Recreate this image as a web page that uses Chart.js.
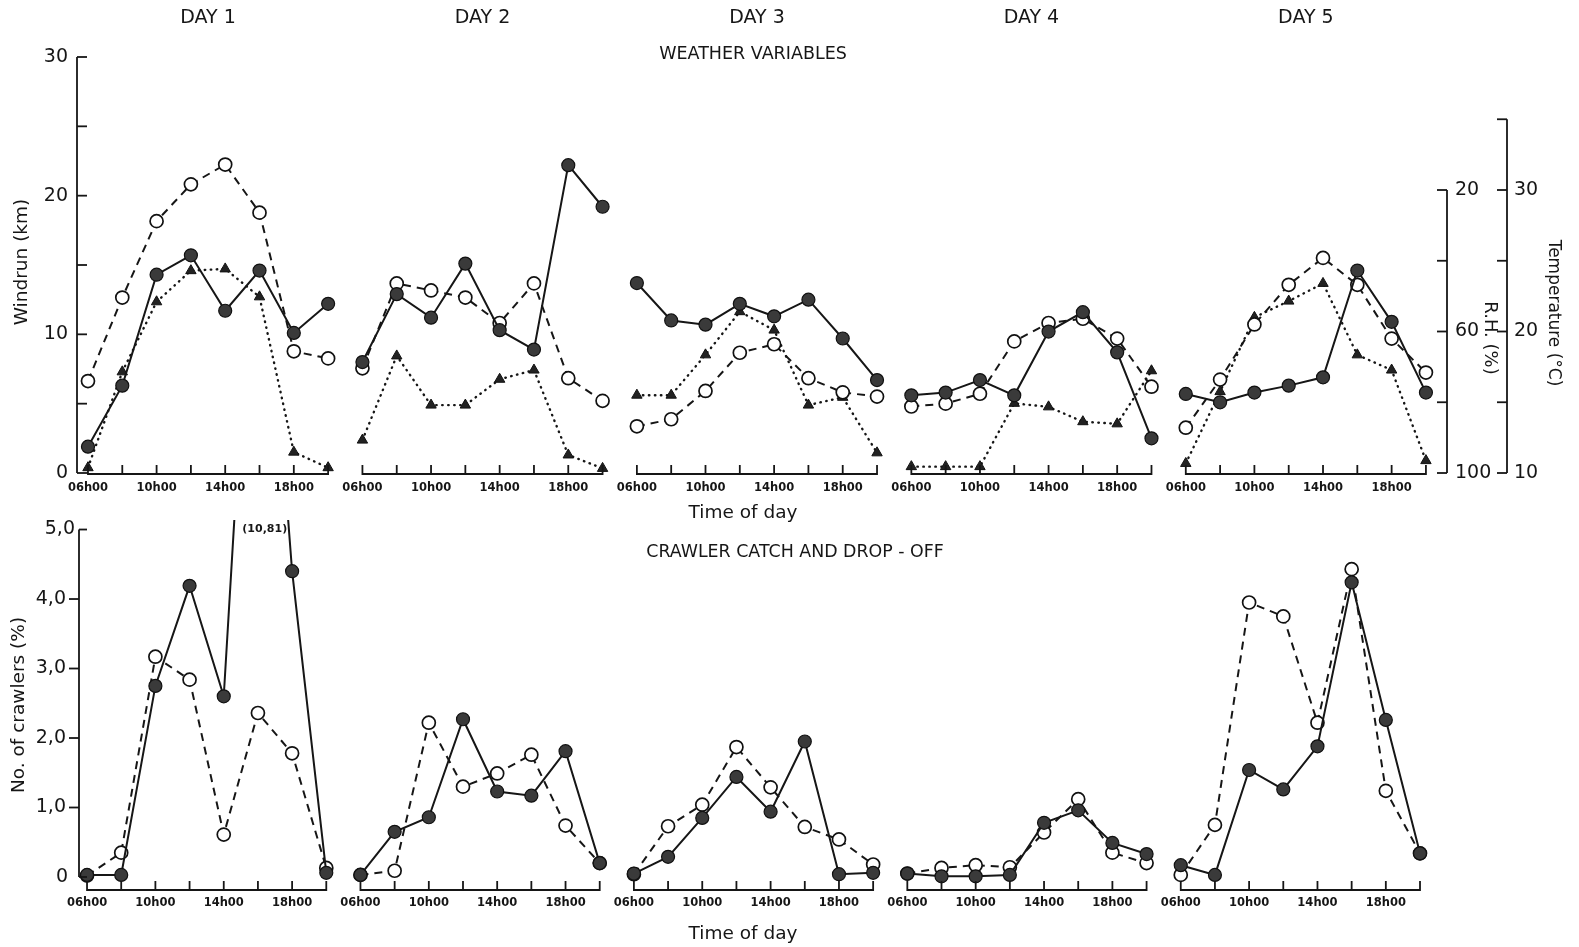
<!DOCTYPE html>
<html>
<head>
<meta charset="utf-8">
<script src="https://cdn.jsdelivr.net/npm/chart.js@4.4.1/dist/chart.umd.min.js"></script>
<style>
  html, body { margin: 0; padding: 0; background: #ffffff; }
  body { width: 1579px; height: 947px; position: relative; overflow: hidden; }
  canvas { position: absolute; left: 0; }
  #weather { top: 0; }
  #crawlers { top: 500px; }
</style>
</head>
<body>
<canvas id="weather" width="1579" height="530"></canvas>
<canvas id="crawlers" width="1579" height="447"></canvas>
<script>
// ---- data -------------------------------------------------------------
const dayNames = ['DAY 1', 'DAY 2', 'DAY 3', 'DAY 4', 'DAY 5'];
const hours = [6, 8, 10, 12, 14, 16, 18, 20];
const hourLabels = ['06h00', '10h00', '14h00', '18h00'];
const labelledHours = [6, 10, 14, 18];

// weather variables, one row per day, readings every two hours 06h00-20h00
const windrun = [            // km (filled circles, solid line)
  [1.9, 6.3, 14.3, 15.7, 11.7, 14.6, 10.1, 12.2],
  [8.0, 12.9, 11.2, 15.1, 10.3, 8.9, 22.2, 19.2],
  [13.7, 11.0, 10.7, 12.2, 11.3, 12.5, 9.7, 6.7],
  [5.6, 5.8, 6.7, 5.6, 10.2, 11.6, 8.7, 2.5],
  [5.7, 5.1, 5.8, 6.3, 6.9, 14.6, 10.9, 5.8]
];
const temperature = [        // deg C (open circles, dashed line)
  [16.5, 22.4, 27.8, 30.4, 31.8, 28.4, 18.6, 18.1],
  [17.4, 23.4, 22.9, 22.4, 20.6, 23.4, 16.7, 15.1],
  [13.3, 13.8, 15.8, 18.5, 19.1, 16.7, 15.7, 15.4],
  [14.7, 14.9, 15.6, 19.3, 20.6, 20.9, 19.5, 16.1],
  [13.2, 16.6, 20.5, 23.3, 25.2, 23.3, 19.5, 17.1]
];
const relHumidity = [        // % (triangles, dotted line)
  [98.5, 71.4, 51.6, 42.8, 42.3, 50.2, 94.1, 98.5],
  [90.7, 66.9, 80.8, 80.8, 73.5, 70.9, 94.9, 98.7],
  [78.0, 78.0, 66.6, 54.4, 59.6, 80.8, 78.6, 94.3],
  [98.2, 98.2, 98.2, 80.3, 81.3, 85.5, 86.1, 71.1],
  [97.3, 77.0, 56.0, 51.4, 46.4, 66.6, 70.9, 96.5]
];

// crawler catch and drop-off, % of crawlers
const crawlersCaught = [     // filled circles, solid line
  [0.03, 0.03, 2.75, 4.19, 2.60, 10.81, 4.40, 0.06],
  [0.03, 0.65, 0.86, 2.27, 1.23, 1.17, 1.81, 0.20],
  [0.05, 0.29, 0.85, 1.44, 0.94, 1.95, 0.04, 0.06],
  [0.05, 0.01, 0.01, 0.03, 0.78, 0.96, 0.49, 0.33],
  [0.17, 0.03, 1.54, 1.26, 1.88, 4.24, 2.26, 0.34]
];
const crawlersDropped = [    // open circles, dashed line
  [0.02, 0.35, 3.17, 2.84, 0.61, 2.36, 1.78, 0.13],
  [0.03, 0.09, 2.22, 1.30, 1.49, 1.76, 0.74, 0.20],
  [0.04, 0.73, 1.04, 1.87, 1.29, 0.72, 0.54, 0.18],
  [0.05, 0.13, 0.17, 0.14, 0.64, 1.12, 0.35, 0.20],
  [0.03, 0.75, 3.95, 3.75, 2.22, 4.43, 1.24, 0.34]
];

const windrunTicks = [0, 10, 20, 30];
const windrunMinorTicks = [0, 5, 10, 15, 20, 25, 30];
const rhTicks = [20, 60, 100];
const rhMinorTicks = [20, 40, 60, 80, 100];
const tempTicks = [10, 20, 30];
const tempMinorTicks = [10, 15, 20, 25, 30, 35];
const crawlerTicks = [0, 1, 2, 3, 4, 5];
const crawlerTickLabels = ['0', '1,0', '2,0', '3,0', '4,0', '5,0'];
const peakLabel = '(10,81)';

// ---- helpers ------------------------------------------------------------
const DAY_SPAN = 16;           // axis hours between successive day origins
const INK = '#161616';
const FONT = '"DejaVu Sans", "Liberation Sans", sans-serif';

function series(rows) {
  const pts = [];
  rows.forEach((row, d) => {
    row.forEach((v, i) => pts.push({ x: d * DAY_SPAN + hours[i], y: v }));
    pts.push({ x: d * DAY_SPAN + 21, y: null });   // break the line between days
  });
  return pts;
}

function text(ctx, s, x, y, font, align, rot) {
  ctx.save();
  ctx.translate(x, y);
  if (rot) ctx.rotate(rot);
  ctx.font = font;
  ctx.textAlign = align || 'center';
  ctx.textBaseline = 'middle';
  ctx.fillStyle = INK;
  ctx.fillText(s, 0, 0);
  ctx.restore();
}

function line(ctx, x1, y1, x2, y2) {
  ctx.beginPath();
  ctx.moveTo(x1, y1);
  ctx.lineTo(x2, y2);
  ctx.stroke();
}

// time axis: one short baseline per day with upward ticks every two hours
function drawDayAxes(ctx, x, baseY, labelY) {
  ctx.lineWidth = 1.8;
  ctx.strokeStyle = INK;
  dayNames.forEach((_, d) => {
    const x0 = x.getPixelForValue(d * DAY_SPAN + hours[0]);
    const x1 = x.getPixelForValue(d * DAY_SPAN + hours[hours.length - 1]);
    line(ctx, x0, baseY, x1, baseY);
    hours.forEach(h => {
      const px = x.getPixelForValue(d * DAY_SPAN + h);
      line(ctx, px, baseY + 1, px, baseY - 9);
    });
    labelledHours.forEach((h, i) => {
      text(ctx, hourLabels[i], x.getPixelForValue(d * DAY_SPAN + h), labelY,
           'bold 11.5px ' + FONT, 'center');
    });
  });
}

const filledStyle = {
  borderColor: INK, borderWidth: 2, pointStyle: 'circle', pointRadius: 6.5,
  pointBackgroundColor: '#3a3a3a', pointBorderColor: '#111', pointBorderWidth: 1.2,
  tension: 0
};
const openStyle = {
  borderColor: INK, borderWidth: 2, borderDash: [8, 6], pointStyle: 'circle',
  pointRadius: 6.5, pointBackgroundColor: '#ffffff', pointBorderColor: '#111',
  pointBorderWidth: 1.7, tension: 0
};
const triangleStyle = {
  borderColor: INK, borderWidth: 2.4, borderDash: [0.5, 5.5], borderCapStyle: 'round',
  pointStyle: 'triangle', pointRadius: 6, pointBackgroundColor: '#222',
  pointBorderColor: '#111', pointBorderWidth: 1, tension: 0
};

const baseOptions = {
  responsive: false,
  animation: false,
  devicePixelRatio: 1,
  plugins: { legend: { display: false }, tooltip: { enabled: false } },
  events: []
};

// ---- weather variables ----------------------------------------------------
const RH_AXIS_X = 1447;
const TEMP_AXIS_X = 1507;

const weatherFrame = {
  id: 'weatherFrame',
  afterDraw(chart) {
    const { ctx, chartArea, scales: { x, yW, yT, yR } } = chart;
    ctx.save();
    ctx.strokeStyle = INK;
    ctx.lineWidth = 1.8;

    // windrun axis (left)
    const ax = chartArea.left;
    line(ctx, ax, yW.getPixelForValue(30), ax, yW.getPixelForValue(0));
    windrunMinorTicks.forEach(v => {
      const py = yW.getPixelForValue(v);
      line(ctx, ax, py, ax + (v === 0 ? 11 : 10), py);
    });
    windrunTicks.forEach(v => text(ctx, String(v), ax - 9, yW.getPixelForValue(v), '19px ' + FONT, 'right'));
    text(ctx, 'Windrun (km)', 22, 262, '18.5px ' + FONT, 'center', -Math.PI / 2);

    // relative humidity axis (inverted)
    line(ctx, RH_AXIS_X, yR.getPixelForValue(20), RH_AXIS_X, yR.getPixelForValue(100));
    rhMinorTicks.forEach(v => {
      const py = yR.getPixelForValue(v);
      line(ctx, RH_AXIS_X - 10, py, RH_AXIS_X, py);
    });
    rhTicks.forEach(v => text(ctx, String(v), RH_AXIS_X + 8, yR.getPixelForValue(v), '19px ' + FONT, 'left'));
    text(ctx, 'R.H. (%)', 1490, 338, '18px ' + FONT, 'center', Math.PI / 2);

    // temperature axis
    line(ctx, TEMP_AXIS_X, yT.getPixelForValue(35), TEMP_AXIS_X, yT.getPixelForValue(10));
    tempMinorTicks.forEach(v => {
      const py = yT.getPixelForValue(v);
      line(ctx, TEMP_AXIS_X - 10, py, TEMP_AXIS_X, py);
    });
    tempTicks.forEach(v => text(ctx, String(v), TEMP_AXIS_X + 7, yT.getPixelForValue(v), '19px ' + FONT, 'left'));
    text(ctx, 'Temperature (\u00B0C)', 1553, 313, '17px ' + FONT, 'center', Math.PI / 2);

    // time axes, day headings and titles
    drawDayAxes(ctx, x, yW.getPixelForValue(0) + 1, 488);
    dayNames.forEach((name, d) => {
      text(ctx, name, x.getPixelForValue(d * DAY_SPAN + 13), 18, '19px ' + FONT, 'center');
    });
    text(ctx, 'WEATHER VARIABLES', 753, 54, '17.5px ' + FONT, 'center');
    text(ctx, 'Time of day', 743, 513, '18.5px ' + FONT, 'center');
    ctx.restore();
  }
};

new Chart(document.getElementById('weather'), {
  type: 'line',
  data: {
    datasets: [
      Object.assign({ label: 'Windrun', data: series(windrun), yAxisID: 'yW', clip: false }, filledStyle),
      Object.assign({ label: 'Temperature', data: series(temperature), yAxisID: 'yT', clip: false }, openStyle),
      Object.assign({ label: 'R.H.', data: series(relHumidity), yAxisID: 'yR', clip: false }, triangleStyle)
    ]
  },
  options: Object.assign({}, baseOptions, {
    layout: { padding: { left: 77, right: 139, top: 57, bottom: 57 } },
    scales: {
      x: { type: 'linear', min: 5.36, max: 84.82, display: false },
      yW: { type: 'linear', min: 0, max: 30, display: false },
      yT: { type: 'linear', min: 10, max: 39.4, display: false },
      yR: { type: 'linear', min: -17.6, max: 100, reverse: true, display: false }
    }
  }),
  plugins: [weatherFrame]
});

// ---- crawler catch and drop-off -------------------------------------------
const crawlerFrame = {
  id: 'crawlerFrame',
  afterDraw(chart) {
    const { ctx, chartArea, scales: { x, y } } = chart;
    ctx.save();
    ctx.strokeStyle = INK;
    ctx.lineWidth = 1.8;

    const ax = chartArea.left;
    line(ctx, ax, y.getPixelForValue(5), ax, y.getPixelForValue(0));
    crawlerTicks.forEach((v, i) => {
      const py = y.getPixelForValue(v);
      if (v === 0 || v === 5) line(ctx, ax, py, ax + 8, py);
      else line(ctx, ax - 10, py, ax, py);
      const lx = (v === 5) ? ax - 4 : (v === 0 ? ax - 11 : ax - 13);
      text(ctx, crawlerTickLabels[i], lx, py, '19px ' + FONT, 'right');
    });
    text(ctx, 'No. of crawlers (%)', 19, 205, '18.5px ' + FONT, 'center', -Math.PI / 2);

    drawDayAxes(ctx, x, y.getPixelForValue(0) + 13, 403);

    // value of the off-scale peak on day 1
    text(ctx, peakLabel, x.getPixelForValue(16.4), 29, 'bold 11px ' + FONT, 'center');

    text(ctx, 'CRAWLER CATCH AND DROP - OFF', 795, 52, '17.4px ' + FONT, 'center');
    text(ctx, 'Time of day', 743, 434, '18.5px ' + FONT, 'center');
    ctx.restore();
  }
};

new Chart(document.getElementById('crawlers'), {
  type: 'line',
  data: {
    datasets: [
      Object.assign({ label: 'Caught', data: series(crawlersCaught), yAxisID: 'y',
                      clip: { left: false, right: false, bottom: false, top: 0 } }, filledStyle),
      Object.assign({ label: 'Dropped off', data: series(crawlersDropped), yAxisID: 'y', clip: false }, openStyle)
    ]
  },
  options: Object.assign({}, baseOptions, {
    layout: { padding: { left: 79, right: 139, top: 20, bottom: 70 } },
    scales: {
      x: { type: 'linear', min: 5.53, max: 85.17, display: false },
      y: { type: 'linear', min: 0, max: 5.137, display: false }
    }
  }),
  plugins: [crawlerFrame]
});
</script>
</body>
</html>
